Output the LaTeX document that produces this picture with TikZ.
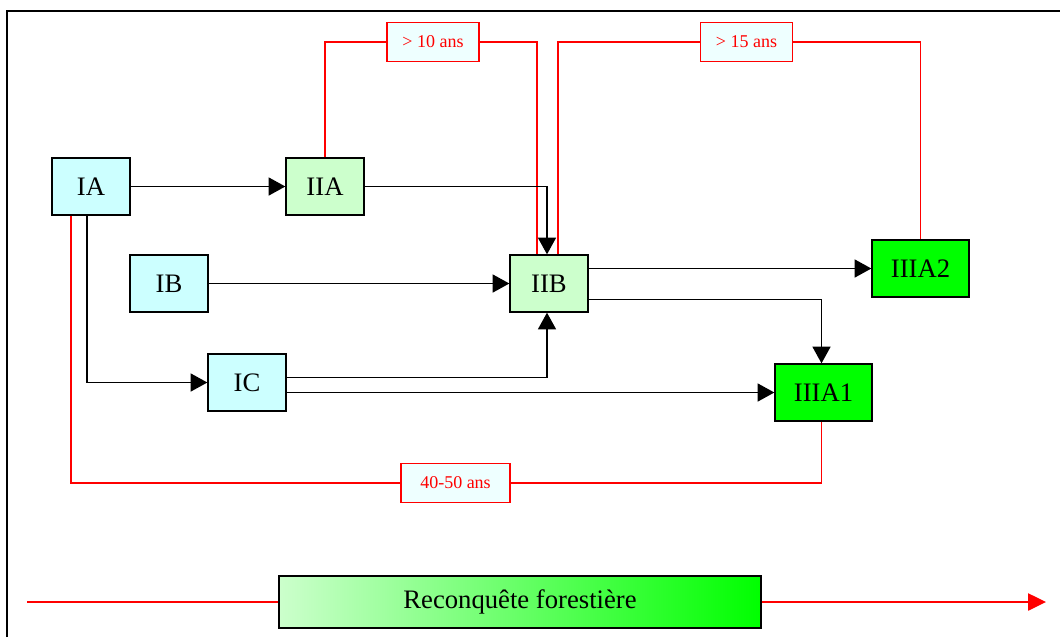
\documentclass[tikz,border=0pt]{standalone}
\usepackage{fontspec}
\setmainfont{Liberation Serif}
\usepackage{xcolor}
\usetikzlibrary{arrows.meta,calc}

\definecolor{paleblue}{RGB}{204,255,255}
\definecolor{palegreen}{RGB}{204,255,204}
\definecolor{fullgreen}{RGB}{0,255,0}
\definecolor{tagfill}{RGB}{238,255,255}
\definecolor{lineRed}{RGB}{255,0,0}

\tikzset{
  stage/.style={draw=black,line width=1pt,minimum width=58.5pt,minimum height=42.75pt,inner sep=0pt,font=\fontsize{20}{24}\selectfont},
  tag/.style={draw=lineRed,fill=tagfill,line width=1pt,text=lineRed,minimum width=69pt,minimum height=29pt,inner sep=0pt,font=\fontsize{13.5}{15}\selectfont},
  flow/.style={draw=black,line width=1.05pt,-{Triangle[length=12.5pt,width=13.5pt]}},
  delay/.style={draw=lineRed,line width=1.05pt}
}

\begin{document}
\begin{tikzpicture}[x=0.75pt,y=0.75pt,yscale=-1,xscale=1]
\useasboundingbox (0,0) rectangle (1060,637);

%Frame
\draw [line width=1.6pt] (7,637) -- (7,11) -- (1060,11) ;

% Text Node
\node [stage,fill=paleblue] (IA) at (91,186.5) {IA};
\node [stage,fill=palegreen] (IIA) at (325,186.5) {IIA};
\node [stage,fill=paleblue] (IB) at (169,283.5) {IB};
\node [stage,fill=palegreen] (IIB) at (549,283.5) {IIB};
\node [stage,fill=paleblue] (IC) at (247,382.5) {IC};
\node [stage,fill=fullgreen,minimum width=72.75pt] (IIIAb) at (920.5,268.5) {IIIA2};
\node [stage,fill=fullgreen,minimum width=72.75pt] (IIIAa) at (823.5,392.5) {IIIA1};

% Delay labels
\node [tag] (ten) at (433,42) {> 10 ans};
\node [tag] (fifteen) at (746.5,42) {> 15 ans};
\node [tag,minimum width=81.75pt] (forty) at (455.5,483) {40-50 ans};

%Straight Lines
\draw [delay] (IIA.north) |- (ten.west) ;
\draw [delay] (ten.east) -| ([xshift=-9pt]IIB.north) ;
\draw [delay] ([xshift=6.75pt]IIB.north) |- (fifteen.west) ;
\draw [delay] (fifteen.east) -| (IIIAb.north) ;
\draw [delay] ([xshift=-15pt]IA.south) |- (forty.west) ;
\draw [delay] (forty.east) -| ([xshift=-1.5pt]IIIAa.south) ;

%Arrows
\draw [flow] (IA) -- (IIA) ;
\draw [flow] (IIA.east) -| ([xshift=-1.5pt]IIB.north) ;
\draw [flow] (IB) -- (IIB) ;
\draw [flow] ([xshift=-3pt]IA.south) |- (IC.west) ;
\draw [flow] ([yshift=-3.75pt]IC.east) -| ([xshift=-1.5pt]IIB.south) ;
\coordinate (icout) at ([yshift=7.5pt]IC.east);
\draw [flow] (icout) -- (icout -| IIIAa.west) ;
\draw [flow] (IIB.east |- IIIAb.west) -- (IIIAb.west) ;
\draw [flow] ([yshift=12pt]IIB.east) -| ([xshift=-1.5pt]IIIAa.north) ;

%Reconquete
\node [draw=black,line width=1pt,left color=palegreen,right color=fullgreen,minimum width=361.5pt,minimum height=39pt,inner sep=0pt,font=\fontsize{20}{24}\selectfont] (bar) at (520,602) {Reconquête forestière};
\coordinate (barstart) at (27,602);
\coordinate (barend) at (1046,602);
\draw [delay] (barstart) -- (bar.west) ;
\draw [delay,-{Triangle[length=13.5pt,width=13pt]}] (bar.east) -- (barend) ;
\end{tikzpicture}
\end{document}
